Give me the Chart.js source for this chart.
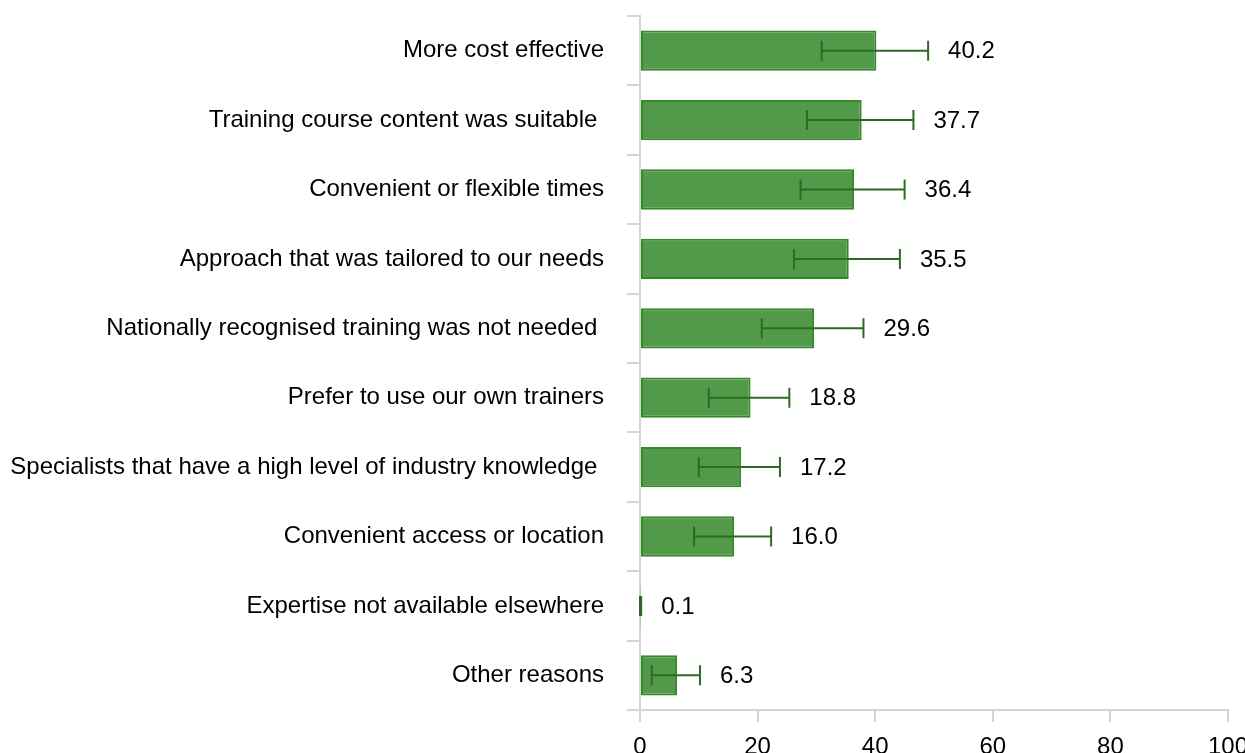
<!DOCTYPE html>
<html>
<head>
<meta charset="utf-8">
<script src="https://cdn.jsdelivr.net/npm/chart.js@4"></script>
<style>
  html, body { margin: 0; padding: 0; background: #fff; }
  #wrap { width: 1245px; height: 753px; }
</style>
</head>
<body>
<div id="wrap"><canvas id="reasons-chart"></canvas></div>
<script>
// reasons for choosing the training provider (%)
const categories = [
    'More cost effective',
    'Training course content was suitable ',
    'Convenient or flexible times',
    'Approach that was tailored to our needs',
    'Nationally recognised training was not needed ',
    'Prefer to use our own trainers',
    'Specialists that have a high level of industry knowledge ',
    'Convenient access or location',
    'Expertise not available elsewhere',
    'Other reasons'
];
const values = [40.2, 37.7, 36.4, 35.5, 29.6, 18.8, 17.2, 16.0, 0.1, 6.3];
// confidence interval ends
const errLow  = [30.9, 28.4, 27.3, 26.2, 20.7, 11.7, 10.0, 9.2, 0.0, 2.0];
const errHigh = [49.0, 46.5, 45.0, 44.2, 38.0, 25.4, 23.8, 22.3, 0.2, 10.2];
const xTicks = [0, 20, 40, 60, 80, 100];

const FONT = 'Liberation Sans, Arial, sans-serif';
const FONT_SIZE = 24;

// whiskers + value text next to each bar
const errorBarPlugin = {
    id: 'errorBars',
    afterDatasetsDraw(chart) {
        const ctx = chart.ctx;
        const xScale = chart.scales.x;
        const meta = chart.getDatasetMeta(0);
        ctx.save();
        ctx.strokeStyle = '#2d6b22';
        ctx.lineWidth = 2;
        meta.data.forEach((bar, i) => {
            const y = bar.y;
            const x0 = xScale.getPixelForValue(errLow[i]);
            const x1 = xScale.getPixelForValue(errHigh[i]);
            ctx.beginPath();
            ctx.moveTo(x0, y);
            ctx.lineTo(x1, y);
            ctx.moveTo(x0, y - 10);
            ctx.lineTo(x0, y + 10);
            ctx.moveTo(x1, y - 10);
            ctx.lineTo(x1, y + 10);
            ctx.stroke();

            ctx.fillStyle = '#000';
            ctx.font = FONT_SIZE + 'px ' + FONT;
            ctx.textAlign = 'left';
            ctx.textBaseline = 'middle';
            const tx = Math.max(bar.x, x1) + 20;
            ctx.fillText(values[i].toFixed(1), tx, y + 1);
        });
        ctx.restore();
    }
};

const ctx = document.getElementById('reasons-chart').getContext('2d');
new Chart(ctx, {
    type: 'bar',
    data: {
        labels: categories,
        datasets: [{
            data: values,
            backgroundColor: '#52994a',
            borderColor: '#358a28',
            borderWidth: 2,
            borderSkipped: false,
            categoryPercentage: 1,
            barPercentage: 0.58
        }]
    },
    options: {
        indexAxis: 'y',
        responsive: true,
        maintainAspectRatio: false,
        animation: false,
        layout: { padding: { top: 16, left: 0, right: 0, bottom: 0 } },
        plugins: {
            legend: { display: false },
            tooltip: { enabled: false }
        },
        scales: {
            x: {
                min: 0,
                max: 100,
                afterBuildTicks: (scale) => { scale.ticks = xTicks.map(v => ({ value: v })); },
                afterFit: (scale) => {
                    scale.height = 43;
                    scale.paddingLeft = 0;
                    scale.paddingRight = 17;
                },
                border: { color: '#d4d4d4', width: 2 },
                grid: {
                    drawOnChartArea: false,
                    drawTicks: true,
                    tickLength: 12,
                    color: '#d4d4d4',
                    lineWidth: 2
                },
                ticks: {
                    color: '#000',
                    padding: 11,
                    font: { family: FONT, size: FONT_SIZE }
                }
            },
            y: {
                afterFit: (scale) => {
                    scale.width = 640;
                    scale.paddingTop = 0;
                    scale.paddingBottom = 0;
                },
                border: { color: '#d4d4d4', width: 2 },
                grid: {
                    offset: true,
                    drawOnChartArea: false,
                    drawTicks: true,
                    tickLength: 13,
                    color: '#d4d4d4',
                    lineWidth: 2
                },
                ticks: {
                    color: '#000',
                    padding: 23,
                    font: { family: FONT, size: FONT_SIZE }
                }
            }
        }
    },
    plugins: [errorBarPlugin]
});
</script>
</body>
</html>
